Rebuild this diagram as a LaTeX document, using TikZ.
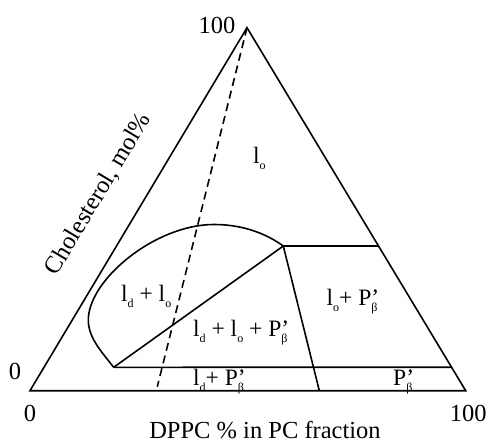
\documentclass[tikz,border=0pt]{standalone}
\usepackage{fontspec}
\setmainfont{Liberation Serif}
\usetikzlibrary{calc}
\newcommand\lsub[1]{\raisebox{-6pt}{\fontsize{12}{12}\selectfont #1}}
\newcommand\Pb{P\rlap{’}\lsub{β}}
\begin{document}
\begin{tikzpicture}[x=1pt,y=1pt,
  edge/.style={line width=1.6pt},
  lab/.style={font=\fontsize{24.5}{28}\selectfont, inner sep=0pt},
  reg/.style={font=\fontsize{23.5}{28}\selectfont, inner sep=0pt, anchor=base west}]
\useasboundingbox (0,0) rectangle (489,442);
\coordinate (A) at (247,414.3);
\coordinate (BL) at (30,51.3);
\coordinate (BR) at (465.7,51.3);
\coordinate (P1) at (113.7,74.7);
\coordinate (R1) at ($(A)!0.9355!(BR)$);
\coordinate (CP) at (283.3,196);
\coordinate (R2) at ($(A)!0.6014!(BR)$);
\coordinate (Q) at (319.3,51.3);
\coordinate (D) at (157.3,55.3);
\coordinate (L) at (88.3,122);
\coordinate (T) at (214,217.5);
\draw[edge, line join=miter] (BL) -- (A) -- (BR) -- cycle;
\draw[edge] (P1) -- (R1);
\draw[edge] (P1) -- (CP) -- (R2);
\draw[edge] (CP) -- (Q);
\draw[edge] (P1) .. controls (100,92) and (88.3,105) .. (L)
  .. controls (88.3,162) and (155,217.5) .. (T)
  .. controls (245,217.5) and (268,207) .. (CP);
\draw[edge, dash pattern=on 8pt off 5pt] (A) -- (D);
% axis labels
\node[lab] (t100) at (217,417) {100};
\node[lab] (l0) at (15,70.3) {0};
\node[lab] (b0) at (30,28.7) {0};
\node[lab] (b100) at (468.3,28.7) {100};
\node[lab, anchor=base] (xlab) at (265,3.5) {DPPC \% in PC fraction};
\node[lab, rotate=59] (ylab) at (98.5,248) {Cholesterol, mol\%};
% region labels
\node[reg] (rlo) at (253,278.7) {l\lsub{o}};
\node[reg] (rldlo) at (121,140.3) {l\lsub{d} + l\lsub{o}};
\node[reg] (r3) at (193,105.3) {l\lsub{d} + l\lsub{o} + \Pb};
\node[reg] (rldP) at (193,56.3) {l\lsub{d}+ \Pb};
\node[reg] (rloP) at (326.5,137) {l\lsub{o}+ \Pb};
\node[reg] (rP) at (393,57) {\Pb};
\end{tikzpicture}
\end{document}
